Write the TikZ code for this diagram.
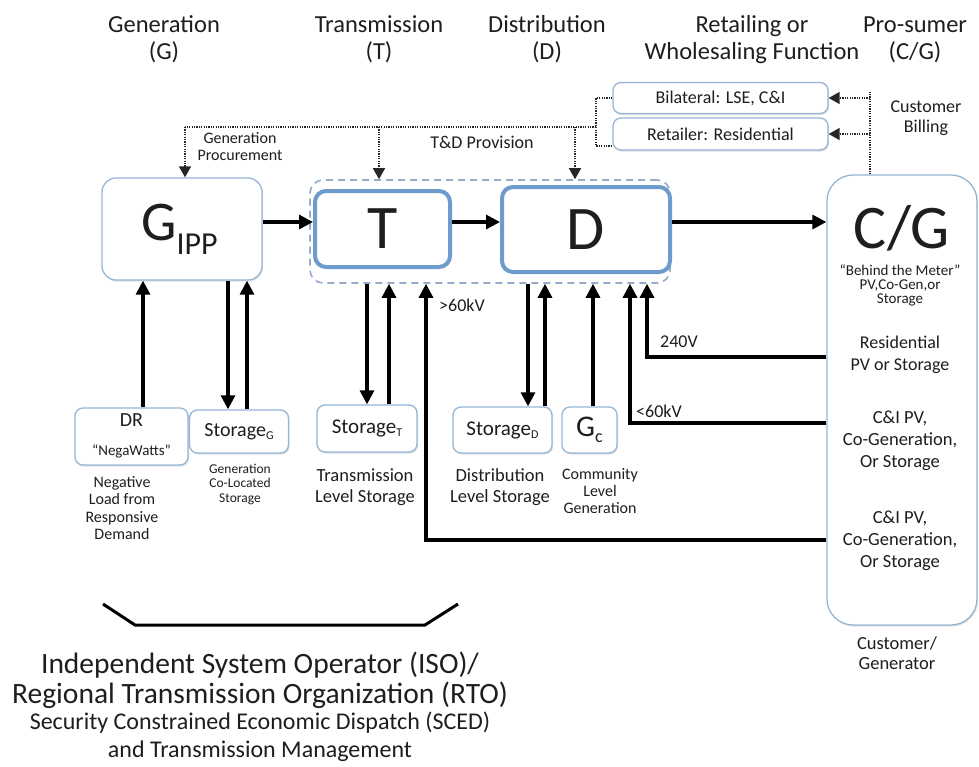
\documentclass[tikz,border=0pt]{standalone}
\usepackage{fontspec}
\setmainfont{Carlito}
\usetikzlibrary{arrows.meta,shadows}
\newcommand\fsz[2]{\fontsize{#1pt}{#2pt}\selectfont}
\definecolor{boxblue}{RGB}{150,182,214}
\definecolor{thickblue}{RGB}{108,155,204}
\definecolor{dashblue}{RGB}{150,172,200}
\definecolor{txt}{RGB}{30,30,30}
\tikzset{
  box/.style={draw=boxblue, line width=1.3pt, rounded corners=8pt, fill=white,
    drop shadow={shadow xshift=1pt, shadow yshift=-1.5pt, opacity=0.25}, inner sep=0pt, text=txt},
  thickbox/.style={draw=thickblue, line width=4pt, rounded corners=11pt, fill=white, inner sep=0pt, text=txt},
  grpbox/.style={draw=dashblue, line width=1.6pt, dash pattern=on 7pt off 5pt, rounded corners=13pt},
  lbl/.style={align=center, inner sep=0pt, text=txt},
  arr/.style={line width=3.1pt, draw=black, -{Triangle[length=14pt,width=14pt]}},
  line/.style={line width=3pt, draw=black},
  dotl/.style={line width=1.4pt, draw=black!85, dash pattern=on 1.2pt off 1.2pt},
  dotarr/.style={dotl, -{Triangle[length=11pt,width=12pt]}},
}
\begin{document}
\begin{tikzpicture}[x=1pt,y=-1pt]
\useasboundingbox (0,0) rectangle (979,766);
\fill[white] (0,0) rectangle (979,766);

% headers
\node[lbl, font=\fsz{24.5}{27}] (hg) at (164,39.5) {Generation\\(G)};
\node[lbl, font=\fsz{24.5}{27}] (ht) at (379,39.5) {Transmission\\(T)};
\node[lbl, font=\fsz{24.5}{27}] (hd) at (547,39.5) {Distribution\\(D)};
\node[lbl, font=\fsz{24.5}{27}] (hr) at (752,39.5) {Retailing or\\Wholesaling Function};
\node[lbl, font=\fsz{24.5}{27}] (hp) at (915,39.5) {Pro-sumer\\(C/G)};

% retail boxes
\node[box, minimum width=215pt, minimum height=31pt, font=\fsz{18}{18}] (bil) at (720.5,98) {Bilateral: LSE, C\&I};
\node[box, minimum width=215pt, minimum height=32pt, font=\fsz{18}{18}] (ret) at (720.5,134) {Retailer: Residential};

% main boxes
\node[grpbox, minimum width=360pt, minimum height=103pt] (grp) at (490,231.5) {};
\node[box, rounded corners=14pt, minimum width=160pt, minimum height=102pt] (g) at (182,229)
  {\hspace*{-5pt}\fsz{56}{56}G\raisebox{-14pt}{\fsz{32}{32}IPP}};
\node[thickbox, minimum width=135pt, minimum height=76pt] (t) at (382.5,229) {\fsz{62}{62}T};
\node[thickbox, minimum width=168pt, minimum height=85pt] (d) at (586,229.5) {\fsz{62}{62}D};
\node[box, rounded corners=26pt, minimum width=150pt, minimum height=450pt] (cg) at (902,400) {};

% C/G texts
\node[lbl, font=\fsz{62}{62}] (cgt) at (902,228) {C/G};
\node[lbl, font=\fsz{15}{14}] (btm) at (900,285) {“Behind the Meter”\\PV,Co-Gen,or\\Storage};
\node[lbl, font=\fsz{18}{22}] (res) at (900,355) {Residential\\PV or Storage};
\node[lbl, font=\fsz{18.5}{22}] (ci1) at (900,441) {C\&I PV,\\Co-Generation,\\Or Storage};
\node[lbl, font=\fsz{18.5}{22}] (ci2) at (900,541) {C\&I PV,\\Co-Generation,\\Or Storage};
\node[lbl, font=\fsz{18.5}{20}] (cust) at (897,653) {Customer/\\Generator};

% bottom boxes
\node[box, minimum width=113pt, minimum height=57pt] (dr) at (131.5,436.5)
  {\begin{tabular}{@{}c@{}}\fsz{20}{20}DR\\[15pt]\fsz{15}{15}“NegaWatts”\end{tabular}};
\node[box, minimum width=99pt, minimum height=43pt] (sg) at (239,431.5)
  {\fsz{20}{20}Storage\raisebox{-3pt}{\fsz{12}{12}G}};
\node[box, minimum width=100pt, minimum height=47pt] (st) at (367,428.5)
  {\fsz{21}{21}Storage\raisebox{-3pt}{\fsz{12}{12}T}};
\node[box, minimum width=99pt, minimum height=46pt] (sd) at (502.5,430)
  {\fsz{21}{21}Storage\raisebox{-3pt}{\fsz{12}{12}D}};
\node[box, minimum width=55pt, minimum height=46pt] (gc) at (589.5,430)
  {\fsz{30}{30}G\raisebox{-6pt}{\fsz{18}{18}c}};

% sub labels
\node[lbl, font=\fsz{16}{17.5}] (drl) at (122,508) {Negative\\Load from\\Responsive\\Demand};
\node[lbl, font=\fsz{13.5}{14.5}] (sgl) at (240,484) {Generation\\Co-Located\\Storage};
\node[lbl, font=\fsz{18.5}{21}] (stl) at (365,487) {Transmission\\Level Storage};
\node[lbl, font=\fsz{18.5}{21}] (sdl) at (500,487) {Distribution\\Level Storage};
\node[lbl, font=\fsz{16}{17}] (gcl) at (600,491) {Community\\Level\\Generation};

% main flow arrows
\draw[arr] (g.east |- 0,222) -- (t.west |- 0,222);
\draw[arr] (t.east |- 0,222) -- (d.west |- 0,222);
\draw[arr] (d.east |- 0,222) -- (cg.west |- 0,222);

% vertical arrows
\draw[arr] (143,0 |- dr.north) -- (143,0 |- g.south);
\draw[arr] (228,0 |- g.south) -- (228,0 |- sg.north);
\draw[arr] (247,0 |- sg.north) -- (247,0 |- g.south);
\draw[arr] (367,0 |- grp.south) -- (367,0 |- st.north);
\draw[arr] (389,0 |- st.north) -- (389,0 |- grp.south);
\draw[arr] (528,0 |- grp.south) -- (528,0 |- sd.north);
\draw[arr] (545,0 |- sd.north) -- (545,0 |- grp.south);
\draw[arr] (593,0 |- gc.north) -- (593,0 |- grp.south);
\draw[arr] (cg.west |- 0,540) -- (426,540) -- (426,0 |- grp.south);
\draw[arr] (cg.west |- 0,423) -- (630,423) -- (630,0 |- grp.south);
\draw[arr] (cg.west |- 0,357) -- (647,357) -- (647,0 |- grp.south);
\node[lbl, font=\fsz{18}{18}] (kv1) at (462,305) {>60kV};
\node[lbl, font=\fsz{18}{18}] (kv2) at (659,411) {<60kV};
\node[lbl, font=\fsz{18}{18}] (kv3) at (679,342) {240V};

% dotted procurement lines
\coordinate (bj) at (596,127);
\coordinate (c1) at (185,127);
\coordinate (c2) at (379,127);
\coordinate (c3) at (575,127);
\draw[dotl] (bil.west) -- (596,0 |- bil.west) -- (596,146) -- (ret.west |- 0,146);
\draw[dotl] (bj) -- (c1);
\draw[dotarr] (c1) -- (c1 |- g.north);
\draw[dotarr] (c2) -- (c2 |- grp.north);
\draw[dotarr] (c3) -- (c3 |- grp.north);
\node[lbl, font=\fsz{16}{17}] (gp) at (240,147) {Generation\\Procurement};
\node[lbl, font=\fsz{18}{18}] (tdp) at (482,142) {T\&D Provision};

% customer billing
\coordinate (cb) at (870,91);
\draw[dotl] (cb |- cg.north) -- (cb);
\draw[dotarr] (cb |- bil.east) -- (bil.east);
\draw[dotarr] (cb |- ret.east) -- (ret.east);
\node[lbl, font=\fsz{18}{20}] (cbl) at (926,118) {Customer\\Billing};

% ISO bracket and text
\draw[line, line join=round] (103,604) -- (135,625) -- (425,625) -- (458,604);
\node[lbl, font=\fsz{29.5}{30}] (iso) at (260,680) {Independent System Operator (ISO)/\\Regional Transmission Organization (RTO)};
\node[lbl, font=\fsz{24}{27.5}] (sced) at (260,737) {Security Constrained Economic Dispatch (SCED)\\and Transmission Management};
\end{tikzpicture}
\end{document}
